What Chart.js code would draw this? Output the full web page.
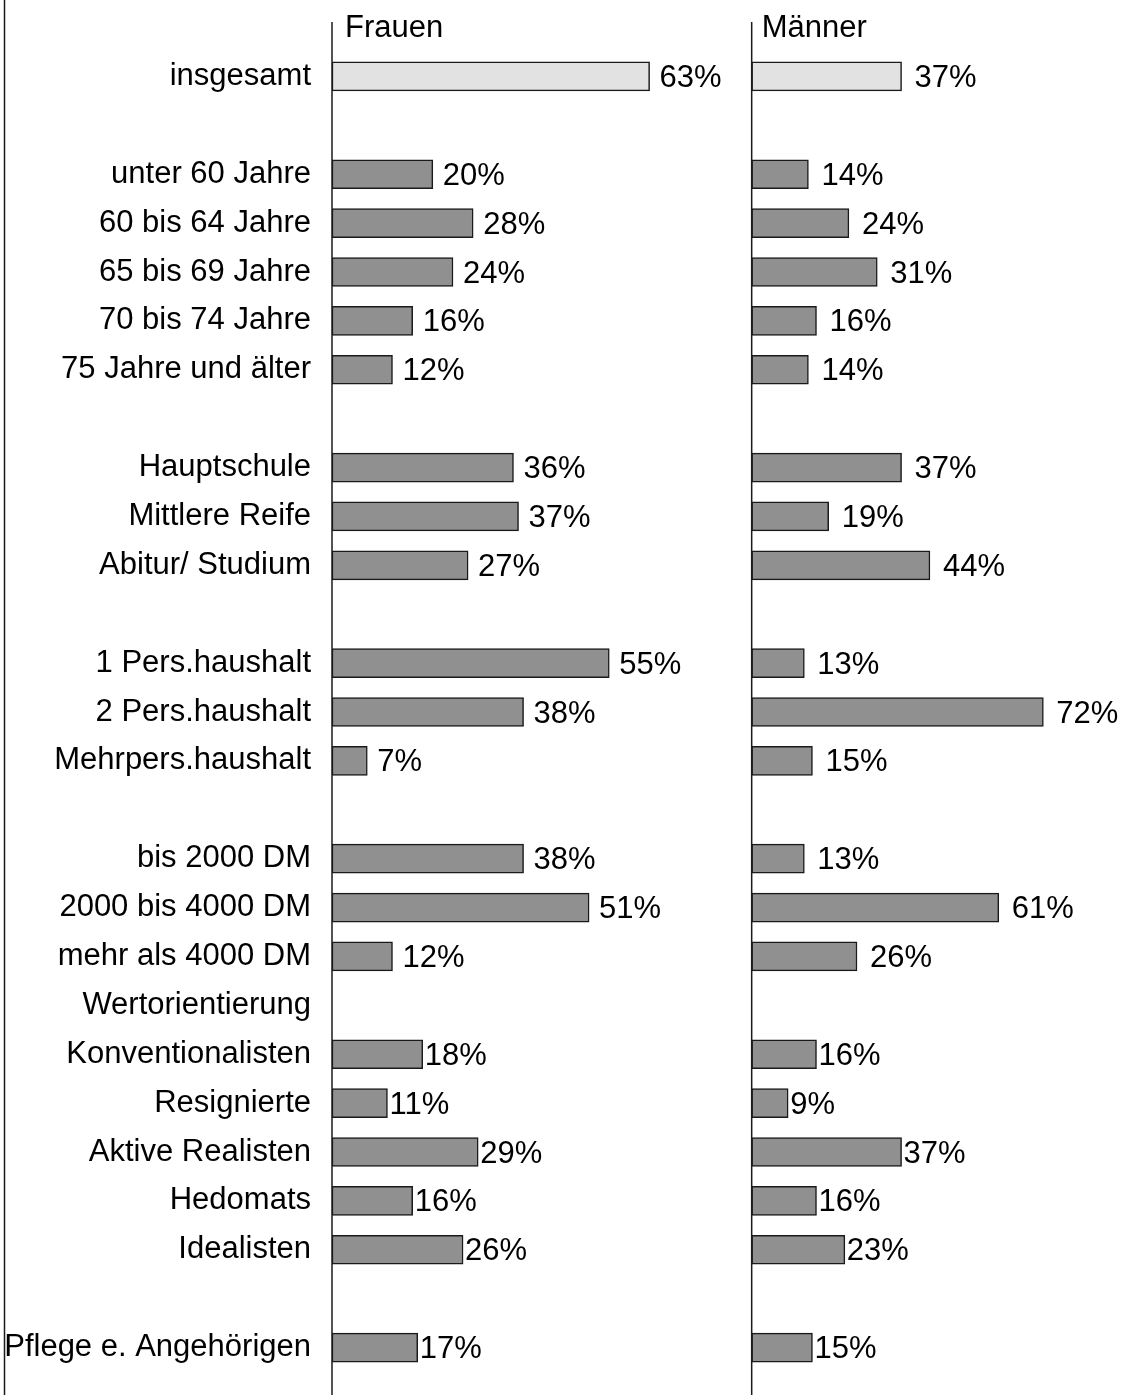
<!DOCTYPE html>
<html>
<head>
<meta charset="utf-8">
<title>Frauen / Männer</title>
<script src="https://cdn.jsdelivr.net/npm/chart.js@4/dist/chart.umd.min.js"></script>
<style>
  body { margin: 0; background: #fff; }
  #wrap { position: relative; width: 1126px; height: 1395px; }
</style>
</head>
<body>
<div id="wrap"><canvas id="chart"></canvas></div>
<script>
'use strict';

// data ('' = empty spacer row)

let categories = [
  'insgesamt', '',
  'unter 60 Jahre', '60 bis 64 Jahre', '65 bis 69 Jahre', '70 bis 74 Jahre', '75 Jahre und älter', '',
  'Hauptschule', 'Mittlere Reife', 'Abitur/ Studium', '',
  '1 Pers.haushalt', '2 Pers.haushalt', 'Mehrpers.haushalt', '',
  'bis 2000 DM', '2000 bis 4000 DM', 'mehr als 4000 DM',
  'Wertorientierung', 'Konventionalisten', 'Resignierte', 'Aktive Realisten', 'Hedomats', 'Idealisten', '',
  'Pflege e. Angehörigen'
];

let frauenValues = [63, null, 20, 28, 24, 16, 12, null, 36, 37, 27, null, 55, 38, 7, null, 38, 51, 12, null, 18, 11, 29, 16, 26, null, 17];
let maennerValues = [37, null, 14, 24, 31, 16, 14, null, 37, 19, 44, null, 13, 72, 15, null, 13, 61, 26, null, 16, 9, 37, 16, 23, null, 15];

let panelTitles = ['Frauen', 'Männer'];

// rows from here on have their % label tight against the bar
let tightLabelsFrom = categories.indexOf('Wertorientierung');

let fontFamily = '"Liberation Sans", Arial, Helvetica, sans-serif';
let fontSize = 31;
let darkGray = '#909090';
let lightGray = '#e2e2e2';
let lineColor = '#1a1a1a';

let canvasElem = document.getElementById('chart');

// lines, panel titles and the % labels

let decorPlugin = {
  id: 'decor',
  afterDatasetsDraw(chart) {
    let ctx = chart.ctx;
    let h = chart.height;
    let xF = chart.scales.xF;
    let xM = chart.scales.xM;
    let zeroF = xF.getPixelForValue(0);
    let zeroM = xM.getPixelForValue(0);

    ctx.save();
    ctx.strokeStyle = lineColor;
    ctx.lineWidth = 1.5;

    // outer left frame line
    ctx.beginPath();
    ctx.moveTo(4.5, 0);
    ctx.lineTo(4.5, h);
    ctx.stroke();

    // panel axes
    [zeroF, zeroM].forEach(function (x) {
      ctx.beginPath();
      ctx.moveTo(x, 22);
      ctx.lineTo(x, h);
      ctx.stroke();
    });

    ctx.fillStyle = '#000';
    ctx.font = fontSize + 'px ' + fontFamily;
    ctx.textAlign = 'left';
    ctx.textBaseline = 'alphabetic';
    ctx.fillText(panelTitles[0], zeroF + 13, 37);
    ctx.fillText(panelTitles[1], zeroM + 10, 37);

    // value labels
    ctx.textBaseline = 'middle';
    chart.data.datasets.forEach(function (ds, di) {
      let meta = chart.getDatasetMeta(di);
      meta.data.forEach(function (bar, i) {
        let v = ds.data[i];
        if (v === null || v === undefined) {
          return;
        }
        let gap = i >= tightLabelsFrom ? 2 : (di === 0 ? 10 : 13);
        ctx.fillText(v + '%', bar.x + gap, bar.y + 2);
      });
    });
    ctx.restore();
  }
};

function barFill(context) {
  return context.dataIndex === 0 ? lightGray : darkGray;
}

let chartObj = {
  type: 'bar',
  data: {
    labels: categories,
    datasets: [{
      label: panelTitles[0],
      data: frauenValues,
      xAxisID: 'xF',
      backgroundColor: barFill,
      borderColor: lineColor,
      borderWidth: 1.5,
      borderSkipped: false,
      barThickness: 29,
      grouped: false
    },
    {
      label: panelTitles[1],
      data: maennerValues,
      xAxisID: 'xM',
      backgroundColor: barFill,
      borderColor: lineColor,
      borderWidth: 1.5,
      borderSkipped: false,
      barThickness: 29,
      grouped: false
    }]
  },
  options: {
    indexAxis: 'y',
    responsive: true,
    maintainAspectRatio: false,
    animation: false,
    layout: {
      padding: { left: 0, right: 0, top: 52, bottom: 23 }
    },
    plugins: {
      legend: { display: false },
      tooltip: { enabled: false }
    },
    scales: {
      y: {
        type: 'category',
        grid: { display: false, drawTicks: false },
        border: { display: false },
        ticks: {
          padding: 21,
          color: '#000',
          autoSkip: false,
          font: { family: fontFamily, size: fontSize }
        },
        afterFit: function (scale) {
          scale.width = 332;
          // don't let tick padding eat into the plot height
          scale.paddingTop = 0;
          scale.paddingBottom = 0;
        }
      },
      // women: 0 at the left panel axis, about 5 px per percent
      xF: {
        type: 'linear',
        display: false,
        min: 0,
        max: 157.5
      },
      // men: same chart area, 0 lands on the right panel axis
      xM: {
        type: 'linear',
        display: false,
        min: -103.6,
        max: 92.4
      }
    }
  },
  plugins: [decorPlugin]
};

new Chart(canvasElem, chartObj);
</script>
</body>
</html>
